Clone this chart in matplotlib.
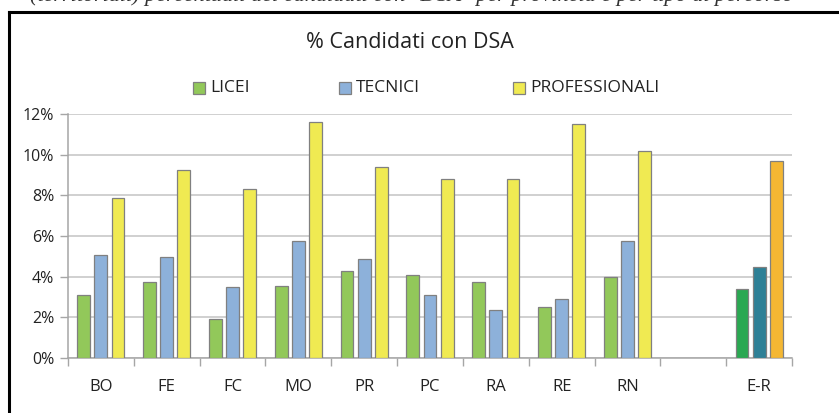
import matplotlib.pyplot as plt
from matplotlib.patches import Rectangle
from matplotlib.lines import Line2D

# data (percent)
province = ["BO", "FE", "FC", "MO", "PR", "PC", "RA", "RE", "RN", "", "E-R"]
licei = [3.1, 3.75, 1.9, 3.53, 4.26, 4.08, 3.75, 2.51, 3.97, None, 3.38]
tecnici = [5.07, 4.95, 3.48, 5.75, 4.87, 3.1, 2.38, 2.9, 5.77, None, 4.47]
professionali = [7.88, 9.25, 8.33, 11.6, 9.4, 8.82, 8.82, 11.52, 10.17, None, 9.7]
yticks = [0, 2, 4, 6, 8, 10, 12]

series = ["LICEI", "TECNICI", "PROFESSIONALI"]
colors = ["#92c85a", "#8db1da", "#f0ea52"]
er_colors = ["#2aa852", "#2e8096", "#f4b733"]

plt.rcParams['font.family'] = ['Open Sans', 'DejaVu Sans']

fig = plt.figure(figsize=(8.39, 4.13), dpi=100)
ax = fig.add_axes([68 / 839, 1 - 358 / 413, 724 / 839, 244 / 413])

w = 0.195
step = 0.26
for i, name in enumerate(province):
    if name == "":
        continue
    vals = [licei[i], tecnici[i], professionali[i]]
    cols = er_colors if name == "E-R" else colors
    for j in range(3):
        ax.bar(i + (j - 1) * step, vals[j], width=w, color=cols[j],
               edgecolor="#808080", linewidth=0.9, zorder=3)

ax.set_xlim(-0.5, len(province) - 0.5)
ax.set_ylim(0, 12)
ax.set_yticks(yticks)
ax.set_yticklabels([f"{v}%" for v in yticks], fontsize=11.5, color="#222222")
ax.set_xticks(range(len(province)))
ax.set_xticklabels(province, fontsize=12, color="#222222")
ax.set_xticks([k - 0.5 for k in range(len(province) + 1)], minor=True)
ax.tick_params(axis='x', which='major', length=0, pad=15)
ax.tick_params(axis='x', which='minor', length=6, color="#a6a6a6", width=1)
ax.tick_params(axis='y', length=6, color="#a6a6a6", width=1, pad=4)
ax.yaxis.grid(True, color="#c4c4c4", linewidth=1.1, zorder=0)
for s in ["top", "right"]:
    ax.spines[s].set_visible(False)
for s in ["left", "bottom"]:
    ax.spines[s].set_color("#a6a6a6")
    ax.spines[s].set_linewidth(1.1)

# title and legend
fig.text(410 / 839, 1 - 43 / 413, "% Candidati con DSA", ha="center", va="center",
         fontsize=15.5, color="#222222")
leg_x = [193, 339, 513]
for k in range(3):
    fig.patches.append(Rectangle((leg_x[k] / 839, 1 - 94 / 413), 12 / 839, 12 / 413,
                                 transform=fig.transFigure, facecolor=colors[k],
                                 edgecolor="#808080", linewidth=0.9))
    fig.text((leg_x[k] + 17) / 839, 1 - 88 / 413, series[k], ha="left", va="center",
             fontsize=12.5, color="#222222")

# frame lines of the cropped box
fig.lines.append(Line2D([9 / 839, 1], [1 - 11.5 / 413, 1 - 11.5 / 413],
                        transform=fig.transFigure, color="black", linewidth=2.2))
fig.lines.append(Line2D([9 / 839, 9 / 839], [0, 1 - 11.5 / 413],
                        transform=fig.transFigure, color="black", linewidth=2.2))

# cropped caption line above the box (only its lower part shows)
fig.text(30 / 839, 1 - 0.6 / 413,
         "(territoriali) percentuali dei candidati con \"DSA\" per provincia e per tipo di percorso",
         ha="left", va="baseline", fontsize=16, style="italic",
         family="Liberation Serif", color="#333333")

fig.savefig("out.png", dpi=100)
